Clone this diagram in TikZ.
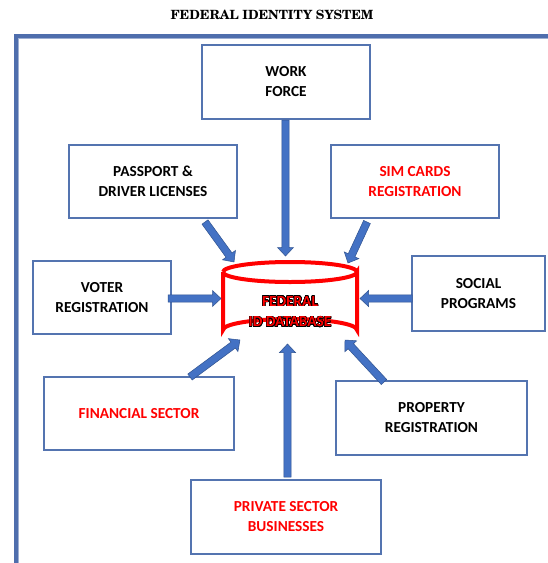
\documentclass[tikz,border=0pt]{standalone}
\usepackage{fontspec}
\setmainfont{Carlito}[BoldFont={Carlito Bold}]
\newfontfamily\titlefont{texgyreschola-bold.otf}
\usepackage[copies]{contour}
\usetikzlibrary{calc}
\definecolor{frameblue}{HTML}{4F6EAD}
\definecolor{boxedge}{HTML}{5474B0}
\definecolor{arrowblue}{HTML}{4472C4}
\definecolor{arrowedge}{HTML}{2F528F}
\definecolor{dbred}{HTML}{FF0000}
\contourlength{0.55pt}
\contournumber{24}

% filled block arrow between two named points
\newcommand\blockarrow[2]{%
  \path[fill=arrowblue, draw=arrowedge, line width=0.5pt]
    let \p1=(#1), \p2=(#2),
        \n1={atan2(\y2-\y1,\x2-\x1)},
        \n2={veclen(\x2-\x1,\y2-\y1)} in
    [shift={(\p1)}, rotate=\n1]
    (0pt,-3.7pt) -- ({\n2-8.5pt},-3.7pt) -- ({\n2-8.5pt},-8pt) --
    ({\n2},0pt) -- ({\n2-8.5pt},8pt) -- ({\n2-8.5pt},3.7pt) --
    (0pt,3.7pt) -- cycle;}

\begin{document}
\begin{tikzpicture}[x=1pt,y=-1pt,
  infobox/.style={draw=boxedge, line width=1.1pt, fill=white, align=center,
    font=\fontsize{15.3}{20}\selectfont\bfseries, inner sep=0pt},
  redtext/.style={text=red}]
\useasboundingbox (0,0) rectangle (548,563);

% title
\node (title) at (272,14.5) {\titlefont\fontsize{12.7}{14}\selectfont FEDERAL IDENTITY SYSTEM};

% outer frame (only top and left edges fall inside the page)
\draw[frameblue!55, line width=5pt] (16,600) -- (16,36) -- (600,36);
\draw[frameblue, line width=3.6pt] (16,600) -- (16,36) -- (600,36);

% surrounding boxes
\node[infobox, minimum width=168pt, minimum height=74pt, text depth=2pt] (work) at (286,82) {WORK\\FORCE};
\node[infobox, minimum width=168pt, minimum height=73pt] (passport) at (153,181.5) {PASSPORT \&\\DRIVER LICENSES};
\node[infobox, redtext, minimum width=168pt, minimum height=73pt] (sim) at (415,181.5) {SIM CARDS\\REGISTRATION};
\node[infobox, minimum width=138pt, minimum height=73pt] (voter) at (102,297.5) {VOTER\\REGISTRATION};
\node[infobox, minimum width=133pt, minimum height=75pt] (social) at (478.5,293.5) {SOCIAL\\PROGRAMS};
\node[infobox, redtext, minimum width=190pt, minimum height=73pt] (financial) at (139,413.5) {FINANCIAL SECTOR};
\node[infobox, minimum width=191pt, minimum height=74pt] (property) at (431.5,418) {PROPERTY\\REGISTRATION};
\node[infobox, redtext, minimum width=190pt, minimum height=74pt] (private) at (286,517) {PRIVATE SECTOR\\BUSINESSES};

% central database cylinder
\node[minimum width=134pt, minimum height=80pt, inner sep=0pt] (db) at (290,302) {};
\draw[dbred, line width=4pt, fill=white]
  (223,272) -- (223,330) arc[start angle=180, end angle=360, x radius=67, y radius=11]
  -- (357,272) arc[start angle=0, end angle=180, x radius=67, y radius=10];
\draw[dbred, line width=4pt] (223,272) arc[start angle=180, end angle=360, x radius=67, y radius=10];
\node[align=center, font=\fontsize{15.3}{20.5}\selectfont\bfseries] (dblabel) at (290,312)
  {\contour{black}{\textcolor{dbred}{FEDERAL}}\\\contour{black}{\textcolor{dbred}{ID DATABASE}}};

% arrow end points
\coordinate (w1) at (285.5,120);   \coordinate (w2) at (285.5,256);
\coordinate (p1) at (205,222);     \coordinate (p2) at (234,262);
\coordinate (s1) at (367,222);     \coordinate (s2) at (348,263);
\coordinate (v1) at (168,298.5);   \coordinate (v2) at (221,298.5);
\coordinate (o1) at (412,298.5);   \coordinate (o2) at (360,298.5);
\coordinate (f1) at (190,377);     \coordinate (f2) at (240,340);
\coordinate (r1) at (384,382);     \coordinate (r2) at (345,340);
\coordinate (b1) at (287.5,477);   \coordinate (b2) at (287.5,344);

\blockarrow{w1}{w2}
\blockarrow{p1}{p2}
\blockarrow{s1}{s2}
\blockarrow{v1}{v2}
\blockarrow{o1}{o2}
\blockarrow{f1}{f2}
\blockarrow{r1}{r2}
\blockarrow{b1}{b2}
\end{tikzpicture}
\end{document}
